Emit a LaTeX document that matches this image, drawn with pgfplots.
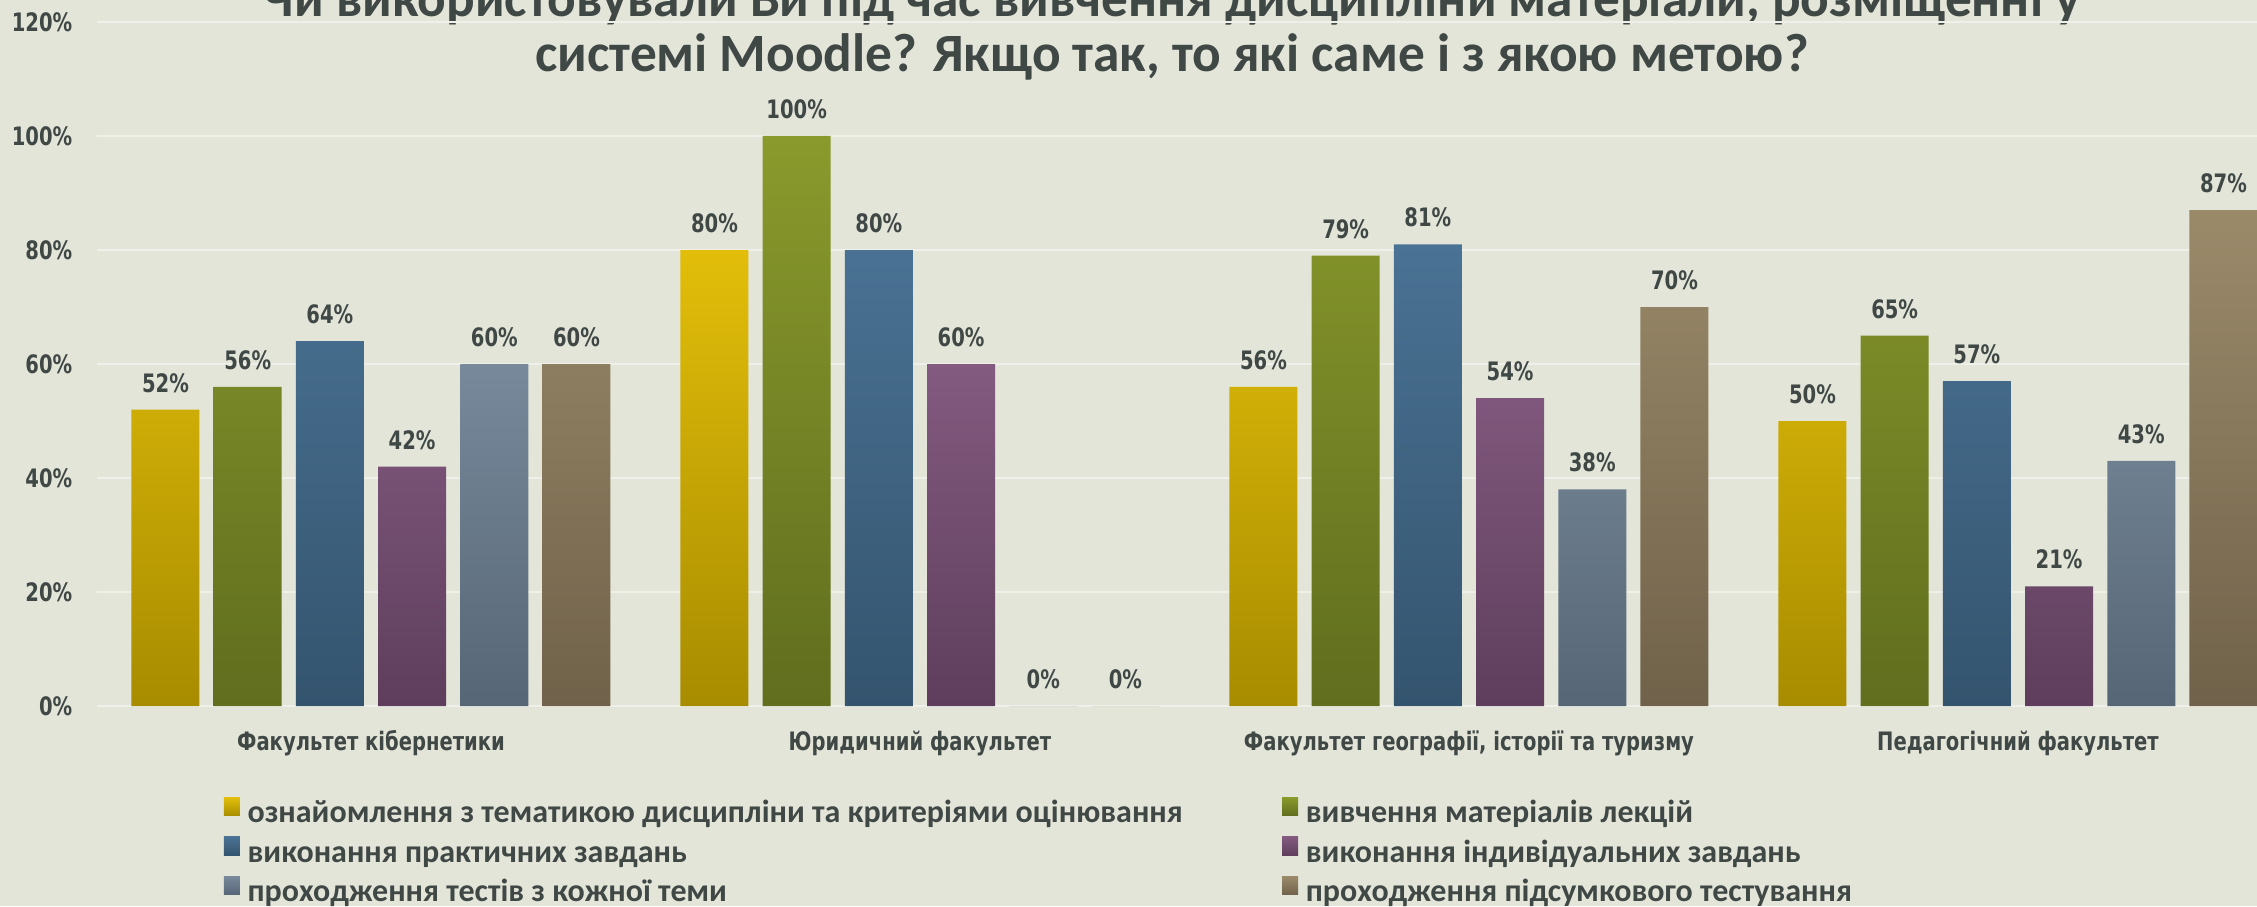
\documentclass[border=0pt]{standalone}
\usepackage{fontspec}
\usepackage{pgfplots}
\pgfplotsset{compat=1.18}
\setmainfont{Carlito}
\newfontfamily\lblfont{DejaVu Sans}[FakeStretch=0.77]
\newfontfamily\cfont{Carlito}
\newfontfamily\tfont{Carlito}[FakeStretch=0.988]
\definecolor{bg}{RGB}{227,229,217}
\definecolor{gridc}{RGB}{238,240,233}
\definecolor{txt}{RGB}{64,72,70}
\definecolor{c1t}{RGB}{226,190,10}\definecolor{c1b}{RGB}{168,140,0}
\definecolor{c2t}{RGB}{138,154,44}\definecolor{c2b}{RGB}{96,110,30}
\definecolor{c3t}{RGB}{74,114,148}\definecolor{c3b}{RGB}{52,84,110}
\definecolor{c4t}{RGB}{131,90,128}\definecolor{c4b}{RGB}{94,62,92}
\definecolor{c5t}{RGB}{120,137,155}\definecolor{c5b}{RGB}{86,102,118}
\definecolor{c6t}{RGB}{155,138,106}\definecolor{c6b}{RGB}{112,98,74}
\begin{document}
\begin{tikzpicture}
\path[use as bounding box] (0,0) rectangle (1128.5pt,453pt);
\clip (0,0) rectangle (1128.5pt,453pt);
\fill[bg] (0,0) rectangle (1128.5pt,453pt);
\node[anchor=base, inner sep=0pt, text=txt, font=\tfont\bfseries\fontsize{27}{32}\selectfont] at (586pt,444.5pt) {Чи використовували Ви під час вивчення дисципліни матеріали, розміщенні у};
\node[anchor=base, inner sep=0pt, text=txt, font=\tfont\bfseries\fontsize{27}{32}\selectfont] at (586pt,417pt) {системі Moodle? Якщо так, то які саме і з якою метою?};
\begin{axis}[
  at={(48.25pt,100pt)}, anchor=south west,
  scale only axis, width=1098pt, height=342pt,
  xmin=-0.5, xmax=3.5, ymin=0, ymax=120,
  ybar=7.1pt, bar width=34pt,
  /pgf/number format/assume math mode=true,
  axis line style={draw=none}, major tick length=0pt,
  ymajorgrids, grid style={gridc, line width=1pt},
  ytick={0,20,...,120},
  yticklabels={0\%,20\%,40\%,60\%,80\%,100\%,120\%},
  yticklabel style={font=\lblfont\bfseries\fontsize{12.7}{15}\selectfont, text=txt, inner sep=0pt, anchor=east, xshift=-11.9pt},
  xtick={0,1,2,3},
  xticklabels={Факультет кібернетики, Юридичний факультет, {Факультет географії, історії та туризму}, Педагогічний факультет},
  xticklabel style={font=\lblfont\bfseries\fontsize{12.7}{15}\selectfont, text=txt, inner sep=0pt, anchor=base, yshift=-22pt},
  nodes near coords={\pgfmathprintnumber[fixed,precision=0,assume math mode=true]{\pgfplotspointmeta}\%},
  every node near coord/.append style={font=\lblfont\bfseries\fontsize{12.7}{15}\selectfont, text=txt, anchor=base, inner sep=0pt, yshift=8.75pt},
  legend columns=2,
  legend image code/.code={\fill[#1] (0pt,-0.25pt) rectangle (8pt,9pt);},
  legend style={at={(0.05783,-0.1330)}, anchor=north west, draw=none, fill=none, inner sep=0pt, column sep=0pt, row sep=3.5pt,
    font=\cfont\bfseries\fontsize{16}{19}\selectfont, text=txt,
    nodes={inner sep=0pt, text height=11pt, text depth=3.5pt}},
]
\addplot[draw=none, top color=c1t, bottom color=c1b] coordinates {(0,52) (1,80) (2,56) (3,50)};
\addlegendentry{\hspace{3.85pt}\makebox[517.3pt][l]{ознайомлення з тематикою дисципліни та критеріями оцінювання}}
\addplot[draw=none, top color=c2t, bottom color=c2b] coordinates {(0,56) (1,100) (2,79) (3,65)};
\addlegendentry{\hspace{3.85pt}\makebox[517.3pt][l]{вивчення матеріалів лекцій}}
\addplot[draw=none, top color=c3t, bottom color=c3b] coordinates {(0,64) (1,80) (2,81) (3,57)};
\addlegendentry{\hspace{3.85pt}\makebox[517.3pt][l]{виконання практичних завдань}}
\addplot[draw=none, top color=c4t, bottom color=c4b] coordinates {(0,42) (1,60) (2,54) (3,21)};
\addlegendentry{\hspace{3.85pt}\makebox[517.3pt][l]{виконання індивідуальних завдань}}
\addplot[draw=none, top color=c5t, bottom color=c5b] coordinates {(0,60) (1,0) (2,38) (3,43)};
\addlegendentry{\hspace{3.85pt}\makebox[517.3pt][l]{проходження тестів з кожної теми}}
\addplot[draw=none, top color=c6t, bottom color=c6b] coordinates {(0,60) (1,0) (2,70) (3,87)};
\addlegendentry{\hspace{3.85pt}\makebox[517.3pt][l]{проходження підсумкового тестування}}
\end{axis}
\end{tikzpicture}
\end{document}
